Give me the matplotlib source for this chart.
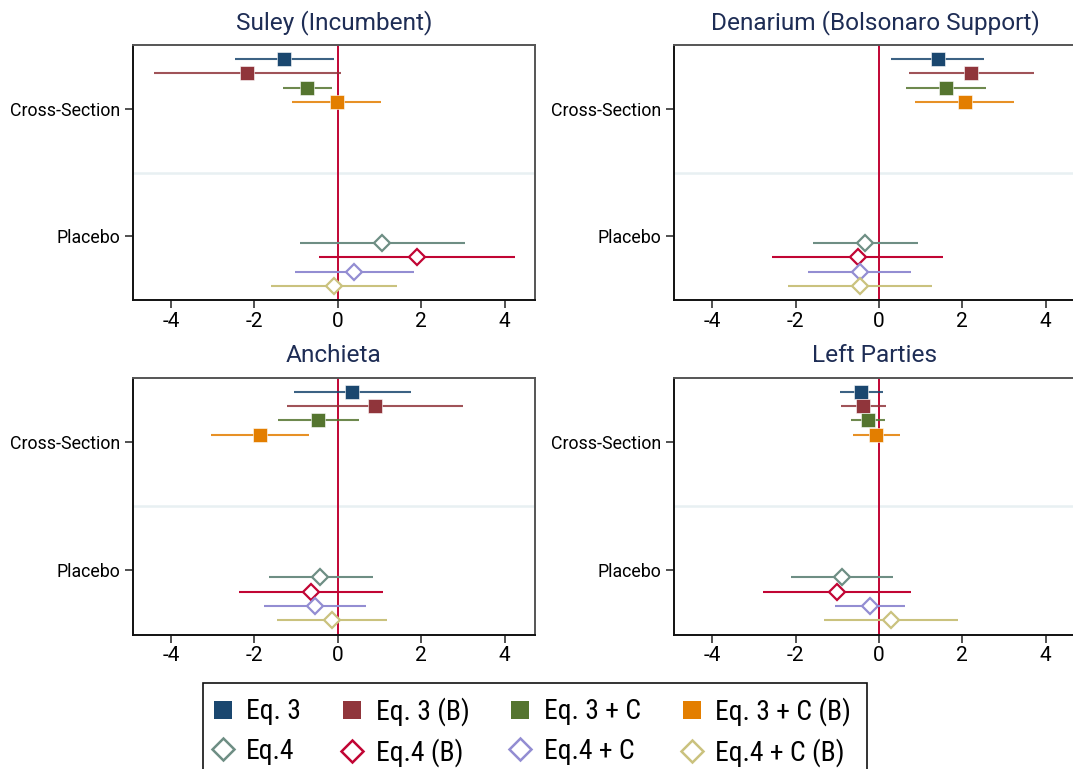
import matplotlib
matplotlib.use("Agg")
import matplotlib.pyplot as plt
from matplotlib.lines import Line2D
from matplotlib.patches import Rectangle
from matplotlib import font_manager

# ---- data -------------------------------------------------------------
panels = ["Suley (Incumbent)", "Denarium (Bolsonaro Support)", "Anchieta", "Left Parties"]
groups = ["Cross-Section", "Placebo"]
series = ["Eq. 3", "Eq. 3 (B)", "Eq. 3 + C", "Eq. 3 + C (B)",
          "Eq.4", "Eq.4 (B)", "Eq.4 + C", "Eq.4 + C (B)"]
# group of each series (0 = Cross-Section, 1 = Placebo)
series_group = [0, 0, 0, 0, 1, 1, 1, 1]

suley_est = [-1.28, -2.17, -0.74, -0.03, 1.06, 1.90, 0.40, -0.09]
suley_lo = [-2.46, -4.40, -1.32, -1.09, -0.91, -0.44, -1.03, -1.61]
suley_hi = [-0.09, 0.07, -0.14, 1.03, 3.05, 4.25, 1.82, 1.43]

denarium_est = [1.41, 2.21, 1.62, 2.06, -0.33, -0.51, -0.46, -0.45]
denarium_lo = [0.29, 0.71, 0.66, 0.87, -1.59, -2.57, -1.70, -2.18]
denarium_hi = [2.53, 3.71, 2.58, 3.25, 0.94, 1.54, 0.76, 1.28]

anchieta_est = [0.35, 0.90, -0.47, -1.86, -0.42, -0.65, -0.55, -0.14]
anchieta_lo = [-1.06, -1.22, -1.44, -3.03, -1.66, -2.37, -1.78, -1.46]
anchieta_hi = [1.75, 3.00, 0.50, -0.69, 0.85, 1.08, 0.67, 1.19]

left_est = [-0.42, -0.38, -0.26, -0.06, -0.89, -1.01, -0.22, 0.30]
left_lo = [-0.94, -0.92, -0.66, -0.62, -2.10, -2.78, -1.05, -1.31]
left_hi = [0.10, 0.16, 0.14, 0.50, 0.34, 0.76, 0.63, 1.89]

xticks = [-4, -2, 0, 2, 4]

# ---- styling ----------------------------------------------------------
colors = ["#1a476f", "#90353b", "#55752f", "#e37e00",
          "#6e8e84", "#c10534", "#938dd2", "#cac27e"]
filled = [True, True, True, True, False, False, False, False]

installed = {f.name for f in font_manager.fontManager.ttflist}
narrow_candidates = ["Liberation Sans Narrow", "Arial Narrow", "Roboto Condensed",
                     "Archivo Narrow", "PT Sans Narrow"]
narrow = next((n for n in narrow_candidates if n in installed), "Roboto")
plt.rcParams["font.family"] = ["Roboto", "DejaVu Sans"]

fig = plt.figure(figsize=(10.73, 7.69), dpi=100)
W, H = 1073.0, 769.0


def px_axes(x0, y0, x1, y1):
    return fig.add_axes([x0 / W, 1 - y1 / H, (x1 - x0) / W, (y1 - y0) / H])


boxes = [(132.7, 45, 535, 300), (674, 45, 1076, 300),
         (132.7, 377.5, 535, 634.5), (674, 377.5, 1076, 634.5)]
data = [(suley_est, suley_lo, suley_hi),
        (denarium_est, denarium_lo, denarium_hi),
        (anchieta_est, anchieta_lo, anchieta_hi),
        (left_est, left_lo, left_hi)]

step = 0.111
offsets = [(i - 3.5) * step for i in range(8)]

for title, box, (est, lo, hi) in zip(panels, boxes, data):
    ax = px_axes(*box)
    ax.set_xlim(-4.92, 4.73)
    ax.set_ylim(2.5, 0.5)
    ax.axhline(1.5, color="#e8f0f2", lw=1.8, zorder=0)
    ax.axvline(0, color="#c10534", lw=1.4, zorder=1)
    for i in range(8):
        y = 1 + series_group[i] + offsets[i]
        ax.plot([lo[i], hi[i]], [y, y], color=colors[i], lw=1.5,
                alpha=0.85 if filled[i] else 1.0, solid_capstyle="butt", zorder=2)
        if filled[i]:
            ax.plot(est[i], y, marker="s", ms=9.5, color=colors[i],
                    mec="white", mew=0.4, zorder=3)
        else:
            ax.plot(est[i], y, marker="D", ms=7.8, mfc="white", mec=colors[i],
                    mew=1.6, zorder=3)
    ax.set_yticks([1, 2])
    ax.set_yticklabels(groups, fontsize=12.8)
    ax.set_xticks(xticks)
    ax.set_xticklabels([str(t) for t in xticks], fontsize=15)
    ax.tick_params(axis="both", direction="out", length=6, width=1.2,
                   color="#333333")
    ax.tick_params(axis="y", pad=3)
    ax.tick_params(axis="x", pad=2.5)
    for sp in ax.spines.values():
        sp.set_color("#555555")
        sp.set_linewidth(1.4)
    ax.spines["left"].set_color("#111111")
    ax.spines["bottom"].set_color("#111111")
    ax.set_title(title, fontsize=17.6, color="#1e2d55", pad=11.5)

# legend: frame drawn as a figure-level rectangle, entries via fig.legend
fig.patches.append(Rectangle((203 / W, 1 - 785 / H), (867 - 203) / W, (785 - 683) / H,
                             transform=fig.transFigure, fill=False,
                             edgecolor="#111111", lw=1.2, zorder=5))
handles = []
for i in range(8):
    if filled[i]:
        h = Line2D([], [], ls="none", marker="s", ms=13, color=colors[i], mew=0)
    else:
        h = Line2D([], [], ls="none", marker="D", ms=11, mfc="white",
                   mec=colors[i], mew=1.8)
    handles.append(h)
order = [0, 4, 1, 5, 2, 6, 3, 7]
leg = fig.legend([handles[k] for k in order], [series[k] for k in order],
                 ncol=4, loc="upper left", bbox_to_anchor=(208.5 / W, 1 - 697 / H),
                 prop={"family": [narrow, "DejaVu Sans"], "size": 19.9},
                 frameon=False, borderpad=0, borderaxespad=0,
                 handletextpad=0.32, columnspacing=1.32, handlelength=1.05,
                 labelspacing=0.45)

fig.savefig("out.png", dpi=100, facecolor="white")
